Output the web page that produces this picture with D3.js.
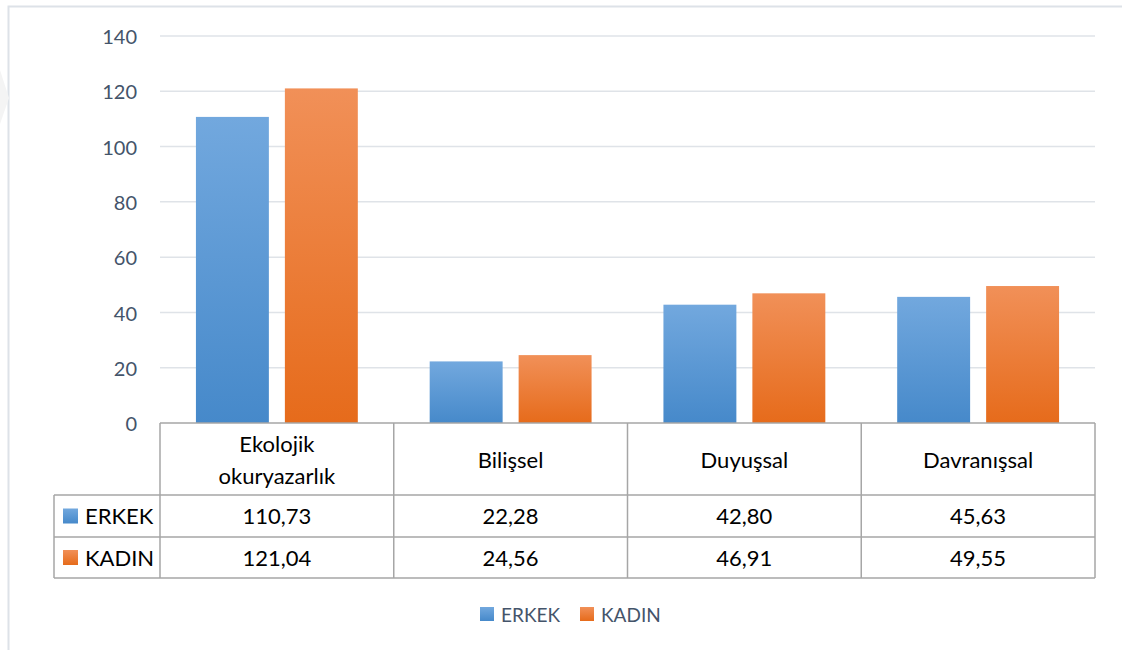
<!DOCTYPE html>
<html><head><meta charset="utf-8">
<script src="https://cdn.jsdelivr.net/npm/d3@7"></script>
<style>
body{margin:0;background:#fff;}
svg{display:block;font-family:Lato,"Open Sans",sans-serif;}
</style></head>
<body><svg id="c" width="1122" height="650"></svg>
<script>
const categories = ["Ekolojik okuryazarlık", "Bilişsel", "Duyuşsal", "Davranışsal"];
const categoryLines = [["Ekolojik", "okuryazarlık"], ["Bilişsel"], ["Duyuşsal"], ["Davranışsal"]];
const seriesNames = ["ERKEK", "KADIN"];
const erkek = [110.73, 22.28, 42.80, 45.63];
const kadin = [121.04, 24.56, 46.91, 49.55];
const yTicks = [0, 20, 40, 60, 80, 100, 120, 140];

const series = [{name: seriesNames[0], values: erkek, grad: "gB"}, {name: seriesNames[1], values: kadin, grad: "gO"}];
const svg = d3.select("#c");
const defs = svg.append("defs");
function grad(id, top, bottom) {
  const g = defs.append("linearGradient").attr("id", id).attr("x1", 0).attr("y1", 0).attr("x2", 0).attr("y2", 1);
  g.append("stop").attr("offset", "0%").attr("stop-color", top);
  g.append("stop").attr("offset", "100%").attr("stop-color", bottom);
}
grad("gB", "#72a8de", "#4689ca");
grad("gO", "#f19058", "#e66b1b");
const loc = d3.formatLocale({decimal: ",", thousands: ".", grouping: [3], currency: ["", ""]});
const fmt = loc.format(".2f");

// outer frame
svg.append("path").attr("d", "M8.5,650 L8.5,6.5 L1122,6.5").attr("fill", "none").attr("stroke", "#dde2e8").attr("stroke-width", 2);
// faint watermark at left
svg.append("path").attr("d", "M0,70 L9,98 L0,124 Z").attr("fill", "#f4f4f4");

const x0 = d3.scaleBand().domain(categories).range([160, 1095]).paddingInner(0).paddingOuter(0);
const x1 = d3.scaleBand().domain(seriesNames).range([0, x0.bandwidth()]).paddingInner(0.18).paddingOuter(0.404);
const y = d3.scaleLinear().domain([0, 140]).range([423, 36]);

// gridlines
svg.append("g").selectAll("line").data(yTicks.filter(d => d > 0)).join("line")
  .attr("x1", 160).attr("x2", 1095).attr("y1", d => y(d)).attr("y2", d => y(d))
  .attr("stroke", "#dfe3e8").attr("stroke-width", 1.5);

// y axis labels
const yAxis = d3.axisLeft(y).tickValues(yTicks).tickSize(0).tickPadding(23);
const ya = svg.append("g").attr("transform", "translate(160,0)").call(yAxis);
ya.select(".domain").remove();
ya.selectAll("text").attr("fill", "#44546a").attr("font-size", 20).attr("font-family", "Lato").attr("dy", "0.38em");

// bars
const groups = svg.append("g").selectAll("g").data(categories).join("g")
  .attr("transform", d => `translate(${x0(d)},0)`);
groups.selectAll("rect").data((d, i) => series.map(s => ({s, v: s.values[i]}))).join("rect")
  .attr("x", d => x1(d.s.name)).attr("width", x1.bandwidth())
  .attr("y", d => y(d.v)).attr("height", d => y(0) - y(d.v))
  .attr("fill", d => `url(#${d.s.grad})`);

// data table
const tableTop = 423, headerBottom = 495, row1Bottom = 537, row2Bottom = 578, tableLeft = 54;
const tb = svg.append("g").attr("stroke", "#a6a6a6").attr("stroke-width", 1.5).attr("fill", "none");
tb.append("line").attr("x1", 160).attr("x2", 1095).attr("y1", tableTop).attr("y2", tableTop);
[headerBottom, row1Bottom, row2Bottom].forEach(yy => tb.append("line").attr("x1", tableLeft).attr("x2", 1095).attr("y1", yy).attr("y2", yy));
tb.append("line").attr("x1", tableLeft).attr("x2", tableLeft).attr("y1", headerBottom).attr("y2", row2Bottom);
categories.forEach(c => tb.append("line").attr("x1", x0(c)).attr("x2", x0(c)).attr("y1", tableTop).attr("y2", row2Bottom));
tb.append("line").attr("x1", 1095).attr("x2", 1095).attr("y1", tableTop).attr("y2", row2Bottom);

// header labels
categories.forEach((c, i) => {
  const lines = categoryLines[i];
  const cx = x0(c) + x0.bandwidth() / 2;
  lines.forEach((t, j) => {
    svg.append("text").attr("x", cx).attr("y", 468 + (j - (lines.length - 1) / 2) * 32)
      .attr("text-anchor", "middle").attr("font-size", 22).attr("fill", "#000").text(t);
  });
});
// rows
const rowMids = [(headerBottom + row1Bottom) / 2, (row1Bottom + row2Bottom) / 2];
series.forEach((s, si) => {
  svg.append("rect").attr("x", 63).attr("y", rowMids[si] - 7.5).attr("width", 15).attr("height", 15).attr("fill", `url(#${s.grad})`);
  svg.append("text").attr("x", 85).attr("y", rowMids[si] + 8).attr("font-size", 22).attr("fill", "#000").text(s.name);
  s.values.forEach((v, i) => {
    svg.append("text").attr("x", x0(categories[i]) + x0.bandwidth() / 2).attr("y", rowMids[si] + 8)
      .attr("text-anchor", "middle").attr("font-size", 22).attr("fill", "#000").text(fmt(v));
  });
});

// legend
const legendPos = [480, 580];
series.forEach((s, si) => {
  svg.append("rect").attr("x", legendPos[si]).attr("y", 607).attr("width", 14).attr("height", 14).attr("fill", `url(#${s.grad})`);
  svg.append("text").attr("x", legendPos[si] + 21).attr("y", 621.5).attr("font-size", 19).attr("fill", "#44546a").text(s.name);
});
</script></body></html>
